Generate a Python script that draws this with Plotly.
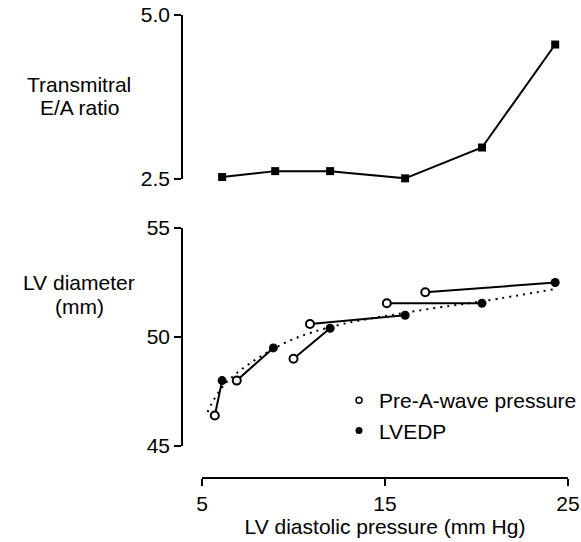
import plotly.graph_objects as go

# ---- data ----
ea_pressure = [6.1, 9.0, 12.0, 16.1, 20.3, 24.3]      # LVEDP (mm Hg)
ea_ratio = [2.53, 2.62, 2.62, 2.51, 2.98, 4.55]

pre_a_pressure = [5.7, 6.9, 10.0, 10.9, 15.1, 17.2]
pre_a_diameter = [46.4, 48.0, 49.0, 50.6, 51.55, 52.05]

lvedp_pressure = [6.1, 8.9, 12.0, 16.1, 20.3, 24.3]
lvedp_diameter = [48.0, 49.5, 50.4, 51.0, 51.55, 52.5]

fit_pressure = [5.3, 6.3, 9.2, 11.8, 16.0, 20.4, 24.3]
fit_diameter = [46.56, 47.89, 49.59, 50.41, 51.10, 51.65, 52.20]

x_ticks = [5, 15, 25]
ea_ticks = [2.5, 5.0]
ea_ticktext = ["2.5", "5.0"]
diam_ticks = [45, 50, 55]

FONT = "Liberation Sans, Arial, Helvetica, sans-serif"
FS = 21

W, H = 581, 542
ML, MR, MT, MB = 182, 8, 15, 64
PW = W - ML - MR
PH = H - MT - MB

def px_x(p):
    return (p - ML) / PW

def px_y(p):
    return (H - MB - p) / PH

fig = go.Figure()

# top panel: E/A ratio
fig.add_trace(go.Scatter(
    x=ea_pressure, y=ea_ratio, mode="lines+markers",
    line=dict(color="black", width=2),
    marker=dict(symbol="square", size=8, color="black"),
    xaxis="x2", yaxis="y2", showlegend=False, cliponaxis=False))

# bottom panel: fit curve
fig.add_trace(go.Scatter(
    x=fit_pressure, y=fit_diameter, mode="lines",
    line=dict(color="black", width=2, dash="2px,5px", shape="spline"),
    showlegend=False, cliponaxis=False))

# connecting segments
seg_x, seg_y = [], []
for a, b, c, d in zip(pre_a_pressure, lvedp_pressure, pre_a_diameter, lvedp_diameter):
    seg_x += [a, b, None]
    seg_y += [c, d, None]
fig.add_trace(go.Scatter(
    x=seg_x, y=seg_y, mode="lines",
    line=dict(color="black", width=2), showlegend=False, cliponaxis=False))

fig.add_trace(go.Scatter(
    x=pre_a_pressure, y=pre_a_diameter, mode="markers",
    marker=dict(symbol="circle", size=8, color="white",
                line=dict(color="black", width=2)),
    showlegend=False, cliponaxis=False))
fig.add_trace(go.Scatter(
    x=lvedp_pressure, y=lvedp_diameter, mode="markers",
    marker=dict(symbol="circle", size=9, color="black"),
    showlegend=False, cliponaxis=False))

# legend entries
fig.add_trace(go.Scatter(
    x=[None], y=[None], mode="markers", name="Pre-A-wave pressure",
    marker=dict(symbol="circle", size=6, color="white",
                line=dict(color="black", width=1.5))))
fig.add_trace(go.Scatter(
    x=[None], y=[None], mode="markers", name="LVEDP",
    marker=dict(symbol="circle", size=7, color="black")))

axis_common = dict(showgrid=False, zeroline=False, showline=True,
                   linecolor="black", linewidth=1.5, ticks="outside",
                   ticklen=7, tickwidth=1.5, tickcolor="black",
                   automargin=False,
                   tickfont=dict(family=FONT, size=FS, color="black"))

fig.update_layout(
    width=W, height=H,
    margin=dict(l=ML, r=MR, t=MT, b=MB, autoexpand=False),
    plot_bgcolor="white", paper_bgcolor="white",
    font=dict(family=FONT, size=FS, color="black"),
    xaxis=dict(domain=[px_x(202), px_x(568)], range=[5, 25],
               anchor="free", position=0, tickvals=x_ticks,
               title=dict(text="LV diastolic pressure (mm Hg)",
                          font=dict(family=FONT, size=FS), standoff=2),
               **axis_common),
    yaxis=dict(domain=[px_y(446), px_y(228)], range=[45, 55],
               anchor="free", position=0, tickvals=diam_ticks,
               **axis_common),
    xaxis2=dict(domain=[px_x(202), px_x(568)], range=[5, 25],
                matches="x", visible=False, anchor="y2"),
    yaxis2=dict(domain=[px_y(179), px_y(15)], range=[2.5, 5.0],
                anchor="free", position=0, tickvals=ea_ticks,
                ticktext=ea_ticktext, **axis_common),
    legend=dict(x=px_x(339), y=px_y(380), xanchor="left", yanchor="top",
                font=dict(family=FONT, size=FS), bgcolor="rgba(0,0,0,0)",
                itemwidth=30),
    annotations=[
        dict(text="Transmitral", xref="paper", yref="paper",
             x=px_x(79), y=px_y(84), xanchor="center", yanchor="middle",
             showarrow=False, font=dict(family=FONT, size=FS)),
        dict(text="E/A ratio", xref="paper", yref="paper",
             x=px_x(79), y=px_y(108), xanchor="center", yanchor="middle",
             showarrow=False, font=dict(family=FONT, size=FS)),
        dict(text="LV diameter", xref="paper", yref="paper",
             x=px_x(79), y=px_y(282), xanchor="center", yanchor="middle",
             showarrow=False, font=dict(family=FONT, size=FS)),
        dict(text="(mm)", xref="paper", yref="paper",
             x=px_x(79), y=px_y(306), xanchor="center", yanchor="middle",
             showarrow=False, font=dict(family=FONT, size=FS)),
    ],
)

fig.write_html("out.html")
